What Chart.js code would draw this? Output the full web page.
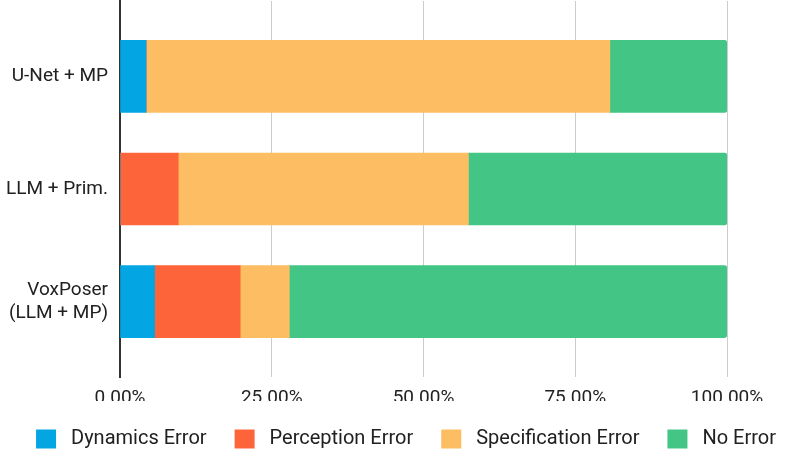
<!DOCTYPE html>
<html>
<head>
<meta charset="utf-8">
<script src="https://cdn.jsdelivr.net/npm/chart.js@4.4.1/dist/chart.umd.min.js"></script>
<style>
  html, body { margin: 0; padding: 0; background: #fff; }
  #wrap { width: 788px; height: 451px; }
</style>
</head>
<body>
<div id="wrap"><canvas id="chart" width="788" height="451"></canvas></div>
<script>
const categories = ['U-Net + MP', 'LLM + Prim.', ['VoxPoser', '(LLM + MP)']];
const seriesNames = ['Dynamics Error', 'Perception Error', 'Specification Error', 'No Error'];
const dynamicsError = [4.3, 0, 5.7];
const perceptionError = [0, 9.6, 14.1];
const specificationError = [76.4, 47.8, 8.1];
const noError = [19.3, 42.6, 72.1];
const xTicks = [0, 25, 50, 75, 100];

const colors = ['#03a5e2', '#fe643a', '#fdbd62', '#42c585'];
const seriesValues = [dynamicsError, perceptionError, specificationError, noError];

const datasets = seriesNames.map((name, i) => ({
  label: name,
  data: seriesValues[i].map((v, j) => ({ x: v, y: j })),
  backgroundColor: colors[i],
  borderWidth: 0,
  borderRadius: i === 3 ? 3 : 0,
  barThickness: 72,
  grouped: false
}));

const tickFont = { family: 'Roboto', size: 19 };
const legendFont = { family: 'Roboto', size: 20 };

new Chart(document.getElementById('chart'), {
  type: 'bar',
  data: { datasets },
  options: {
    indexAxis: 'y',
    responsive: false,
    animation: false,
    // legend sits a bit right of centre in the original, so let it run past the right edge
    layout: { padding: { left: 0, right: -24, top: 1, bottom: -8 } },
    scales: {
      x: {
        stacked: true,
        min: 0,
        max: 100,
        afterBuildTicks: s => { s.ticks = xTicks.map(v => ({ value: v })); },
        afterFit: s => { s.height = 24; s.paddingRight = 61; },
        ticks: {
          font: tickFont,
          color: '#212121',
          padding: 10,
          callback: v => v.toFixed(2) + '%'
        },
        grid: { color: '#cccccc', lineWidth: 1, drawTicks: false },
        border: { display: false }
      },
      y: {
        type: 'linear',
        reverse: true,
        offset: false,
        min: -0.67,
        max: 2.67,
        afterBuildTicks: s => { s.ticks = categories.map((c, i) => ({ value: i })); },
        afterFit: s => { s.width = 120; s.paddingTop = 0; s.paddingBottom = 0; },
        ticks: {
          font: tickFont,
          color: '#212121',
          padding: 12,
          callback: v => categories[v]
        },
        grid: { display: false, drawTicks: false },
        border: { display: true, color: '#333', width: 2 }
      }
    },
    plugins: {
      legend: {
        position: 'bottom',
        labels: {
          font: legendFont,
          color: '#212121',
          boxWidth: 20,
          boxHeight: 19,
          padding: 28,
          generateLabels: chart => Chart.defaults.plugins.legend.labels.generateLabels(chart)
            .map(item => ({ ...item, text: ' ' + item.text }))
        }
      },
      tooltip: { enabled: false }
    }
  }
});
</script>
</body>
</html>
